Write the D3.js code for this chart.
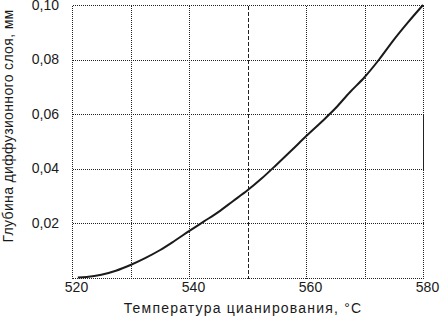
<!DOCTYPE html>
<html>
<head>
<meta charset="utf-8">
<script src="https://cdn.jsdelivr.net/npm/d3@7"></script>
<style>
  body { margin: 0; background: #fff; }
  text { font-family: "Liberation Sans", Arial, sans-serif; fill: #1a1a1a; }
</style>
</head>
<body>
<script>
let width = 442;
let height = 320;

// data
let temps  = [521, 522.5, 525, 527.5, 530, 532.5, 535, 537.5, 540, 542.5, 545, 547.5,
              550, 552.5, 555, 557.5, 560, 562.5, 565, 567.5, 570, 572.5, 575, 577.5, 580];
let depths = [0.0000, 0.0002, 0.0010, 0.0025, 0.0046, 0.0071, 0.0100, 0.0134, 0.0170, 0.0205, 0.0240, 0.0280,
              0.0320, 0.0365, 0.0415, 0.0466, 0.0518, 0.0568, 0.0620, 0.0680, 0.0735, 0.0800, 0.0872, 0.0938, 0.1000];

let xTicks = [520, 540, 560, 580];
let xGrid  = [530, 540, 550, 560, 570];
let yTicks = [0.02, 0.04, 0.06, 0.08, 0.10];

let xTitle = "Температура цианирования, °С";
let yTitle = "Глубина диффузионного слоя, мм";

//scales

let xScale = d3.scaleLinear()
    .domain([520, 580])
    .range([72, 423]);

let yScale = d3.scaleLinear()
    .domain([0, 0.10])
    .range([277.5, 5]);

let px = function(v) { return Math.round(v) + 0.5; };

let svg = d3.select("body")
    .append("svg")
    .attr("width", width)
    .attr("height", height);

let x0 = px(xScale(520)), x1 = px(xScale(580));
let y0 = px(yScale(0)), y1 = px(yScale(0.10));

//grid

svg.selectAll("line.vgrid")
    .data(xGrid)
    .enter()
    .append("line")
    .attr("x1", function(d) { return px(xScale(d)); })
    .attr("x2", function(d) { return px(xScale(d)); })
    .attr("y1", y1)
    .attr("y2", y0)
    .attr("stroke", "#222")
    .attr("stroke-width", 1)
    .attr("stroke-dasharray", function(d) { return d === 550 ? "4,2" : "1,1"; })
    .attr("shape-rendering", "crispEdges");

svg.selectAll("line.hgrid")
    .data(yTicks.filter(function(d) { return d < 0.1; }))
    .enter()
    .append("line")
    .attr("x1", x0)
    .attr("x2", x1)
    .attr("y1", function(d) { return px(yScale(d)); })
    .attr("y2", function(d) { return px(yScale(d)); })
    .attr("stroke", "#222")
    .attr("stroke-width", function(d) { return (d === 0.04 || d === 0.06) ? 1.5 : 1; })
    .attr("stroke-dasharray", "1,1")
    .attr("shape-rendering", "crispEdges");

//frame

let frame = [
    [x0, y1, x1, y1],
    [x0, y0, x1, y0],
    [x0, y1, x0, y0],
    [x1, y1, x1, y0]
];
svg.selectAll("line.frame")
    .data(frame)
    .enter()
    .append("line")
    .attr("x1", function(d) { return d[0]; })
    .attr("y1", function(d) { return d[1]; })
    .attr("x2", function(d) { return d[2]; })
    .attr("y2", function(d) { return d[3]; })
    .attr("stroke", "#222")
    .attr("stroke-dasharray", "1,1")
    .attr("shape-rendering", "crispEdges");

// solid piece of the right border
svg.append("line")
    .attr("x1", x1).attr("x2", x1)
    .attr("y1", px(yScale(0.06))).attr("y2", px(yScale(0.04)))
    .attr("stroke", "#222")
    .attr("stroke-width", 1.5)
    .attr("shape-rendering", "crispEdges");

//curve

let line = d3.line()
    .x(function(d, i) { return xScale(temps[i]); })
    .y(function(d) { return yScale(d); })
    .curve(d3.curveMonotoneX);

svg.append("path")
    .datum(depths)
    .attr("d", line)
    .attr("fill", "none")
    .attr("stroke", "#1a1a1a")
    .attr("stroke-width", 2);

//axes

let xAxis = d3.axisBottom(xScale)
    .tickValues(xTicks)
    .tickSize(0)
    .tickPadding(4.5)
    .tickFormat(d3.format("d"));

let gx = svg.append("g")
    .attr("transform", "translate(0," + yScale(0) + ")")
    .call(xAxis);
gx.select(".domain").remove();
gx.selectAll("text")
    .attr("dx", 4)
    .attr("font-size", "14px")
    .attr("font-family", "Liberation Sans, Arial, sans-serif")
    .attr("fill", "#1a1a1a");

let yAxis = d3.axisLeft(yScale)
    .tickValues(yTicks)
    .tickSize(0)
    .tickPadding(13)
    .tickFormat(function(d) { return d3.format(".2f")(d).replace(".", ","); });

let gy = svg.append("g")
    .attr("transform", "translate(" + xScale(520) + ",0)")
    .call(yAxis);
gy.select(".domain").remove();
gy.selectAll("text")
    .attr("font-size", "14px")
    .attr("font-family", "Liberation Sans, Arial, sans-serif")
    .attr("fill", "#1a1a1a");

//titles

svg.append("text")
    .text(xTitle)
    .attr("x", 243)
    .attr("y", 313)
    .attr("text-anchor", "middle")
    .attr("letter-spacing", "1.2px")
    .attr("font-size", "14px");

svg.append("text")
    .text(yTitle)
    .attr("transform", "translate(13,126) rotate(-90)")
    .attr("text-anchor", "middle")
    .attr("letter-spacing", "0.35px")
    .attr("font-size", "14px");
</script>
</body>
</html>
